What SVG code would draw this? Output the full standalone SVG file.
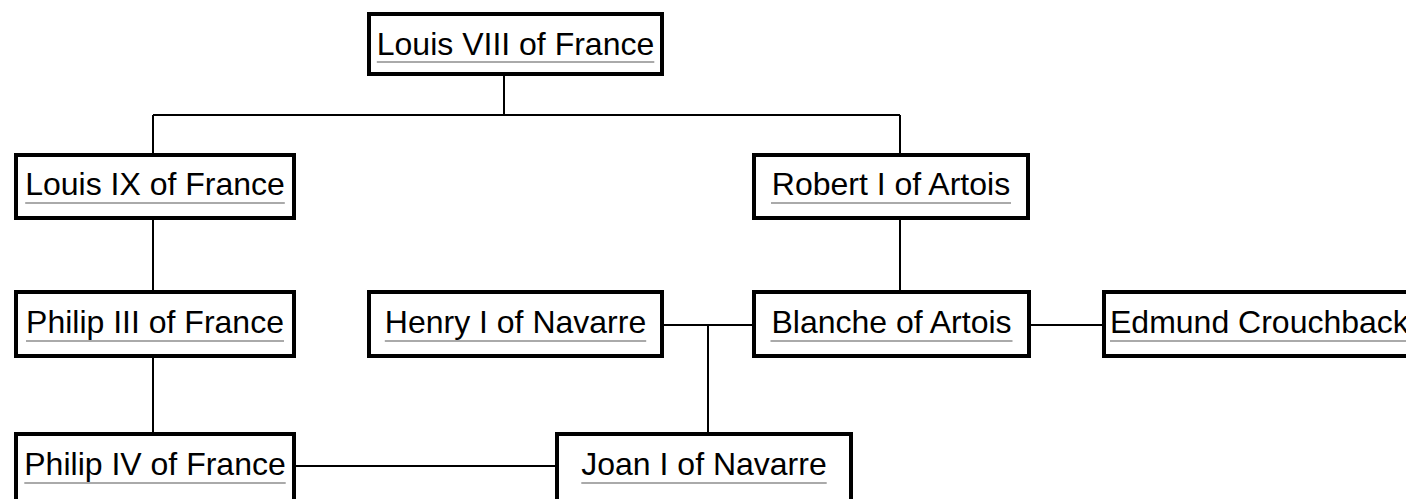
<svg xmlns="http://www.w3.org/2000/svg" width="1406" height="499" viewBox="0 0 1406 499">
<style>
.box{fill:#fff;stroke:#000;stroke-width:4}
.lbl{font-family:"Liberation Sans",Arial,sans-serif;font-size:32px;fill:#000}
.ul{stroke:#aaa;stroke-width:2}
.conn{stroke:#000;stroke-width:2;fill:none}
</style>
<rect width="1406" height="499" fill="#fff"/>
<g id="connectors">
<path class="conn" d="M504 76V115M153 115H900M153 115V153M900 115V153"/>
<path class="conn" d="M153 220V290M900 220V290M153 358V432"/>
<path class="conn" d="M664 325H752M708 325V432M1031 325H1102M296 466H555"/>
</g>
<g id="louis8">
<rect class="box" x="369" y="14" width="293" height="60"/>
<text class="lbl" x="515.5" y="55" text-anchor="middle">Louis VIII of France</text>
<line class="ul" x1="376.8" y1="62" x2="654.3" y2="62"/>
</g>
<g id="louis9">
<rect class="box" x="16" y="155" width="278" height="63"/>
<text class="lbl" x="155" y="195" text-anchor="middle">Louis IX of France</text>
<line class="ul" x1="25.2" y1="203" x2="284.8" y2="203"/>
</g>
<g id="robert1">
<rect class="box" x="754" y="155" width="274" height="63"/>
<text class="lbl" x="891" y="195" text-anchor="middle">Robert I of Artois</text>
<line class="ul" x1="771" y1="203" x2="1011" y2="203"/>
</g>
<g id="philip3">
<rect class="box" x="16" y="292" width="278" height="64"/>
<text class="lbl" x="155" y="333" text-anchor="middle">Philip III of France</text>
<line class="ul" x1="26" y1="341" x2="284" y2="341"/>
</g>
<g id="henry1">
<rect class="box" x="369" y="292" width="293" height="64"/>
<text class="lbl" x="515.5" y="333" text-anchor="middle">Henry I of Navarre</text>
<line class="ul" x1="384.8" y1="341" x2="646.2" y2="341"/>
</g>
<g id="blanche">
<rect class="box" x="754" y="292" width="275" height="64"/>
<text class="lbl" x="891.5" y="333" text-anchor="middle">Blanche of Artois</text>
<line class="ul" x1="770.5" y1="341" x2="1012.5" y2="341"/>
</g>
<g id="edmund">
<rect class="box" x="1104" y="292" width="330" height="64"/>
<text class="lbl" x="1110" y="333">Edmund Crouchback</text>
<line class="ul" x1="1110" y1="341" x2="1406" y2="341"/>
</g>
<g id="philip4">
<rect class="box" x="16" y="434" width="278" height="80"/>
<text class="lbl" x="155" y="475" text-anchor="middle">Philip IV of France</text>
<line class="ul" x1="24.3" y1="483" x2="285.7" y2="483"/>
</g>
<g id="joan1">
<rect class="box" x="557" y="434" width="294" height="80"/>
<text class="lbl" x="704" y="475" text-anchor="middle">Joan I of Navarre</text>
<line class="ul" x1="581.3" y1="483" x2="826.7" y2="483"/>
</g>
</svg>
